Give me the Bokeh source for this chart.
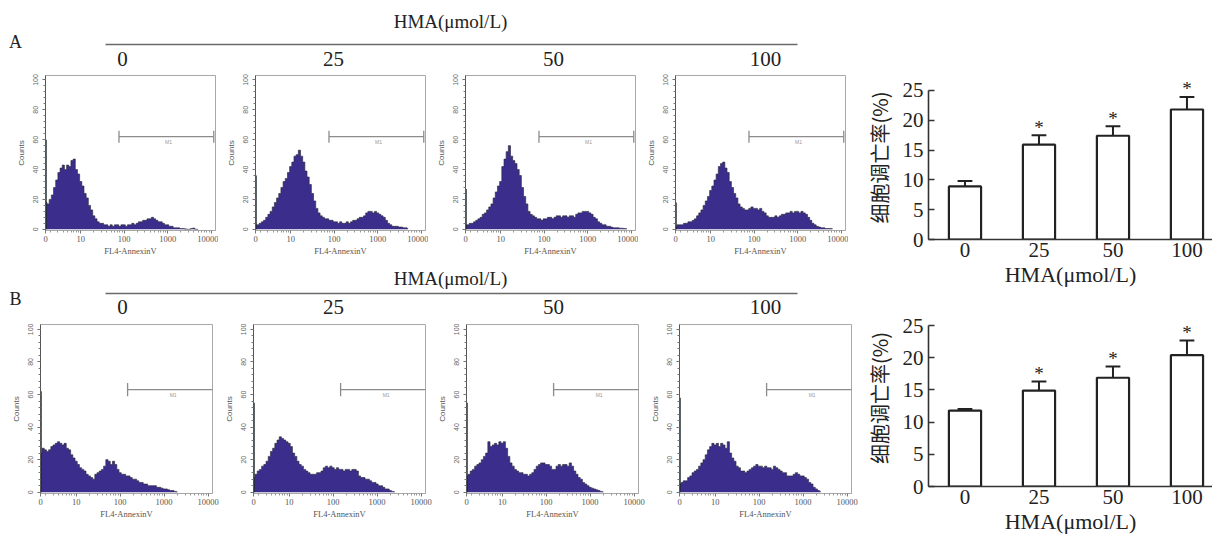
import math
from bokeh.plotting import figure
from bokeh.layouts import row, column
from bokeh.models import Range1d, FixedTicker, CustomJSTickFormatter
from bokeh.embed import file_html
from bokeh.resources import INLINE
from bokeh.core.properties import value

# ---------------- data ----------------
conc_labels = ["0", "25", "50", "100"]
axis_title = "HMA(\u03bcmol/L)"
ylab_bar = "细胞调亡率(%)"

bar_A = [8.9, 15.9, 17.4, 21.8]
err_A = [0.9, 1.6, 1.6, 2.1]
bar_B = [11.8, 14.9, 16.9, 20.4]
err_B = [0.25, 1.4, 1.75, 2.3]
sig = ["", "*", "*", "*"]

bin_start = 0.2   # first bin centre (log10 decades)
bin_step = 0.05

hist_A0 = [18, 17, 20, 23, 28, 33, 38, 41, 43, 40, 43, 42, 46, 47, 40, 37, 32, 29, 24, 21,
           16, 13, 9, 7, 5, 4, 4, 3, 3, 2, 3, 2, 3, 3, 2, 3, 3, 2, 3, 3,
           4, 3, 4, 5, 5, 6, 6, 7, 7, 8, 7, 6, 5, 5, 4, 3, 3, 2, 2, 1,
           1, 1, 0.5, 0.5, 0.3, 0, 0, 0.5, 0.8, 0, 0]
hist_A1 = [3, 3, 4, 5, 6, 8, 10, 12, 15, 18, 21, 24, 28, 32, 34, 38, 42, 45, 49, 50,
           53, 49, 45, 39, 35, 30, 24, 19, 14, 11, 9, 8, 7, 7, 6, 6, 5, 5, 4, 5,
           4, 4, 5, 4, 5, 6, 6, 7, 8, 8, 9, 11, 12, 12, 11, 12, 11, 10, 9, 8,
           6, 4, 3, 2, 2, 2, 1.5, 1.5, 1, 1, 0.5]
hist_A2 = [3, 3, 4, 4, 5, 6, 7, 8, 10, 11, 13, 15, 17, 21, 25, 29, 32, 42, 47, 52,
           56, 49, 46, 44, 40, 36, 28, 22, 17, 12, 10, 9, 8, 7, 7, 6, 7, 7, 8, 8,
           7, 8, 9, 9, 8, 9, 9, 8, 9, 9, 8, 10, 11, 11, 12, 12, 12, 11, 10, 8,
           7, 5, 4, 3, 3, 2, 2, 1.5, 1, 1, 1, 0.7, 0.7, 0.5, 0.5]
hist_A3 = [2, 3, 3, 3, 4, 4, 5, 5, 6, 7, 9, 11, 13, 16, 19, 22, 26, 29, 33, 37,
           42, 44, 45, 41, 38, 32, 28, 24, 21, 17, 15, 14, 13, 13, 14, 15, 14, 14, 13, 14,
           12, 11, 9, 8, 8, 8, 9, 8, 9, 10, 10, 11, 11, 12, 11, 12, 12, 11, 12, 11,
           10, 8, 6, 4, 3, 2, 1.5, 1, 1, 0.5, 0.5, 0.5, 0.5]
hist_B0 = [24, 27, 26, 25, 26, 28, 29, 30, 31, 30, 29, 30, 27, 26, 23, 21, 19, 17, 15, 14,
           13, 11, 10, 9, 8, 11, 12, 13, 14, 16, 20, 19, 17, 19, 17, 14, 12, 11, 11, 10,
           10, 9, 8, 8, 7, 6, 6, 5, 5, 4, 4, 4, 4, 3, 3, 2.5, 2, 2, 1.5, 1,
           1, 0.5, 0.3]
hist_B1 = [9, 11, 13, 14, 16, 17, 19, 22, 25, 27, 30, 32, 34, 33, 32, 31, 30, 28, 24, 22,
           19, 17, 16, 14, 13, 12, 11, 11, 11, 12, 12, 13, 15, 16, 15, 16, 15, 14, 15, 14,
           14, 13, 14, 14, 13, 14, 14, 13, 10, 9, 9, 8, 8, 7, 6, 6, 5, 4, 4, 3,
           2, 2, 1, 0.5, 0.3]
hist_B2 = [10, 11, 13, 14, 16, 17, 18, 20, 22, 24, 31, 28, 29, 30, 29, 31, 30, 31, 27, 22,
           18, 16, 14, 13, 12, 12, 11, 11, 10, 11, 12, 14, 16, 17, 18, 18, 17, 17, 16, 14,
           14, 16, 17, 16, 17, 17, 16, 18, 16, 13, 11, 9, 8, 6, 5, 4, 3, 2.5, 2, 1.5,
           1, 0.5, 0.3]
hist_B3 = [5, 6, 7, 7, 9, 10, 12, 13, 14, 16, 18, 20, 23, 26, 28, 30, 29, 30, 28, 30,
           29, 27, 31, 24, 21, 19, 16, 15, 13, 13, 12, 13, 14, 15, 16, 17, 16, 16, 15, 16,
           15, 15, 14, 16, 15, 14, 13, 12, 12, 10, 10, 10, 11, 12, 11, 10, 10, 9, 8, 6,
           5, 3, 2, 1, 0.5]

spike_A = [60, 36, 27, 18]
spike_B = [62, 55, 55, 58]
gate_A = [1.88, 4.06, 62]   # start, end (decades), height (counts)
gate_B = [2.17, 4.14, 63]

x_ticks_hist = [0.19, 1, 2, 3, 4]
y_ticks_hist = [0, 20, 40, 60, 80, 100]

# ---------------- styles ----------------
FILL = "#3b2d8c"
SERIF_NAME = "Liberation Serif"
SERIF = value(SERIF_NAME)


def hist_fig(counts, spike, gate, W, H, left, right, top, bottom, right_cap=True):
    p = figure(width=W, height=H, x_range=Range1d(0.19, 4.1), y_range=Range1d(-0.8, 103),
               toolbar_location=None, output_backend="svg",
               min_border_left=left, min_border_right=right,
               min_border_top=top, min_border_bottom=bottom)
    p.grid.visible = False
    p.outline_line_color = "#a8a8a8"
    p.outline_line_width = 1
    xs = [bin_start + bin_step * i for i in range(len(counts))]
    p.varea_step(x=xs, y1=[0] * len(xs), y2=counts, step_mode="center", fill_color=FILL)
    p.step(x=xs, y=counts, mode="center", line_color="#2a2a3a", line_width=0.8, line_alpha=0.8)
    p.segment(x0=[0.2], y0=[0], x1=[0.2], y1=[spike], line_color="#1f2a30", line_width=1.6)
    g0, g1, gy = gate
    p.segment(x0=[g0], y0=[gy], x1=[g1], y1=[gy], line_color="#8c8c8c", line_width=1.3)
    caps = [g0, g1] if right_cap else [g0]
    p.segment(x0=caps, y0=[gy - 4] * len(caps), x1=caps, y1=[gy + 4] * len(caps),
              line_color="#8c8c8c", line_width=1.3)
    p.text(x=[(g0 + g1) / 2 + 0.05], y=[gy - 1.5], text=["M1"], text_font_size="5px",
           text_color="#999999", text_align="center", text_baseline="top")
    # x axis
    xa = p.xaxis[0]
    xa.ticker = FixedTicker(ticks=x_ticks_hist,
                            minor_ticks=[d + math.log10(k) for d in range(4) for k in range(2, 10)])
    xa.formatter = CustomJSTickFormatter(
        code='return tick < 0.5 ? "0" : String(Math.round(Math.pow(10, tick)));')
    xa.axis_label = "FL4-AnnexinV"
    xa.major_label_text_font = SERIF_NAME
    xa.major_label_text_font_size = "8.5px"
    xa.major_label_text_color = "#555555"
    xa.axis_label_text_font = SERIF_NAME
    xa.axis_label_text_font_size = "8.5px"
    xa.axis_label_text_font_style = "normal"
    xa.axis_label_text_color = "#555555"
    xa.axis_line_color = "#a8a8a8"
    xa.major_tick_line_color = "#777777"
    xa.minor_tick_line_color = "#999999"
    xa.major_tick_out = 3
    xa.major_tick_in = 0
    xa.minor_tick_out = 2
    xa.minor_tick_in = 0
    xa.major_label_standoff = 2
    xa.axis_label_standoff = 1
    ya = p.yaxis[0]
    ya.ticker = FixedTicker(ticks=y_ticks_hist, minor_ticks=list(range(0, 101, 4)))
    ya.axis_label = "Counts"
    ya.major_label_orientation = "vertical"
    ya.major_label_text_font = "Liberation Sans"
    ya.major_label_text_font_size = "7px"
    ya.major_label_text_color = "#666666"
    ya.axis_label_text_font = "Liberation Sans"
    ya.axis_label_text_font_size = "8px"
    ya.axis_label_text_font_style = "normal"
    ya.axis_label_text_color = "#555555"
    ya.axis_line_color = "#555555"
    ya.major_tick_line_color = "#666666"
    ya.minor_tick_line_color = "#777777"
    ya.major_tick_out = 3
    ya.major_tick_in = 0
    ya.minor_tick_out = 2
    ya.minor_tick_in = 0
    ya.major_label_standoff = 4
    ya.axis_label_standoff = 5
    return p


def header_fig(letter, W, H, y_title, y_line, y_labels, y_letter):
    p = figure(width=W, height=H, x_range=Range1d(0, W), y_range=Range1d(0, H),
               toolbar_location=None, output_backend="svg", min_border=0,
               x_axis_location=None, y_axis_location=None)
    p.grid.visible = False
    p.outline_line_color = None
    p.text(x=[442], y=[H - y_title], text=[axis_title], text_font=SERIF, text_font_size="19px",
           text_align="center", text_baseline="middle", text_color="#222222")
    p.segment(x0=[97], y0=[H - y_line], x1=[789], y1=[H - y_line], line_color="#6a6a6a", line_width=1.3)
    p.text(x=[114, 325, 545, 757], y=[H - y_labels] * 4, text=conc_labels, text_font=SERIF,
           text_font_size="21px", text_align="center", text_baseline="middle", text_color="#222222")
    p.text(x=[7], y=[H - y_letter], text=[letter], text_font=SERIF, text_font_size="18px",
           text_align="center", text_baseline="middle", text_color="#222222")
    return p


def bar_fig(vals, errs, W, H, top, bottom, left):
    p = figure(width=W, height=H, x_range=Range1d(-0.493, 3.345), y_range=Range1d(0, 27.5),
               toolbar_location=None, output_backend="svg",
               min_border_left=left, min_border_right=0, min_border_top=top, min_border_bottom=bottom)
    p.grid.visible = False
    p.outline_line_color = None
    xs = list(range(len(vals)))
    tops = [v + e for v, e in zip(vals, errs)]
    p.segment(x0=xs, y0=vals, x1=xs, y1=tops, line_color="#222222", line_width=2)
    p.segment(x0=[x - 0.1 for x in xs], y0=tops, x1=[x + 0.1 for x in xs], y1=tops,
              line_color="#222222", line_width=2)
    p.vbar(x=xs, top=vals, width=0.435, fill_color="white", line_color="#222222", line_width=2.2)
    p.text(x=xs, y=tops, text=sig, text_font=SERIF, text_font_size="19px", text_align="center",
           text_baseline="alphabetic", y_offset=-8, text_color="#222222")
    ya = p.yaxis[0]
    ya.ticker = FixedTicker(ticks=[0, 5, 10, 15, 20, 25])
    ya.bounds = (0, 25)
    ya.minor_tick_line_color = None
    ya.major_tick_in = 6
    ya.major_tick_out = 0
    ya.axis_label = ylab_bar
    ya.axis_label_text_font = "Noto Sans CJK SC"
    ya.axis_label_text_font_size = "20px"
    ya.axis_label_text_font_style = "normal"
    ya.axis_label_standoff = 6
    xa = p.xaxis[0]
    xa.ticker = FixedTicker(ticks=xs)
    xa.major_label_overrides = {i: conc_labels[i] for i in xs}
    xa.minor_tick_line_color = None
    xa.major_tick_in = 0
    xa.major_tick_out = 0
    xa.axis_label = axis_title
    xa.axis_label_text_font = SERIF_NAME
    xa.axis_label_text_font_size = "22px"
    xa.axis_label_text_font_style = "normal"
    xa.axis_label_standoff = 2
    for a in [xa, ya]:
        a.axis_line_color = "#333333"
        a.axis_line_width = 1.6
        a.major_tick_line_color = "#333333"
        a.major_tick_line_width = 1.6
        a.major_label_text_font = SERIF_NAME
        a.major_label_text_font_size = "21px"
        a.major_label_text_color = "#222222"
        a.axis_label_text_color = "#222222"
    xa.major_label_standoff = 3
    ya.major_label_standoff = 5
    return p


histA = [hist_A0, hist_A1, hist_A2, hist_A3]
histB = [hist_B0, hist_B1, hist_B2, hist_B3]

headA = header_fig("A", 852, 64, 13, 36, 50, 33)
rowA = row(*[hist_fig(h, s, gate_A, 210, 190, 37, 3, 3, 32) for h, s in zip(histA, spike_A)])
headB = header_fig("B", 852, 56, 16, 31, 44, 36)
rowB = row(*[hist_fig(h, s, gate_B, 213, 213, 31, 9, 6, 38, right_cap=False)
             for h, s in zip(histB, spike_B)])

barA = bar_fig(bar_A, err_A, 352, 292, 67, 61, 68)
barB = bar_fig(bar_B, err_B, 352, 237, 9, 51, 68)

layout = row(column(headA, rowA, headB, rowB), column(barA, barB))
layout.margin = (8, 0, 0, 8)

open("out.html", "w").write(file_html(layout, INLINE))
